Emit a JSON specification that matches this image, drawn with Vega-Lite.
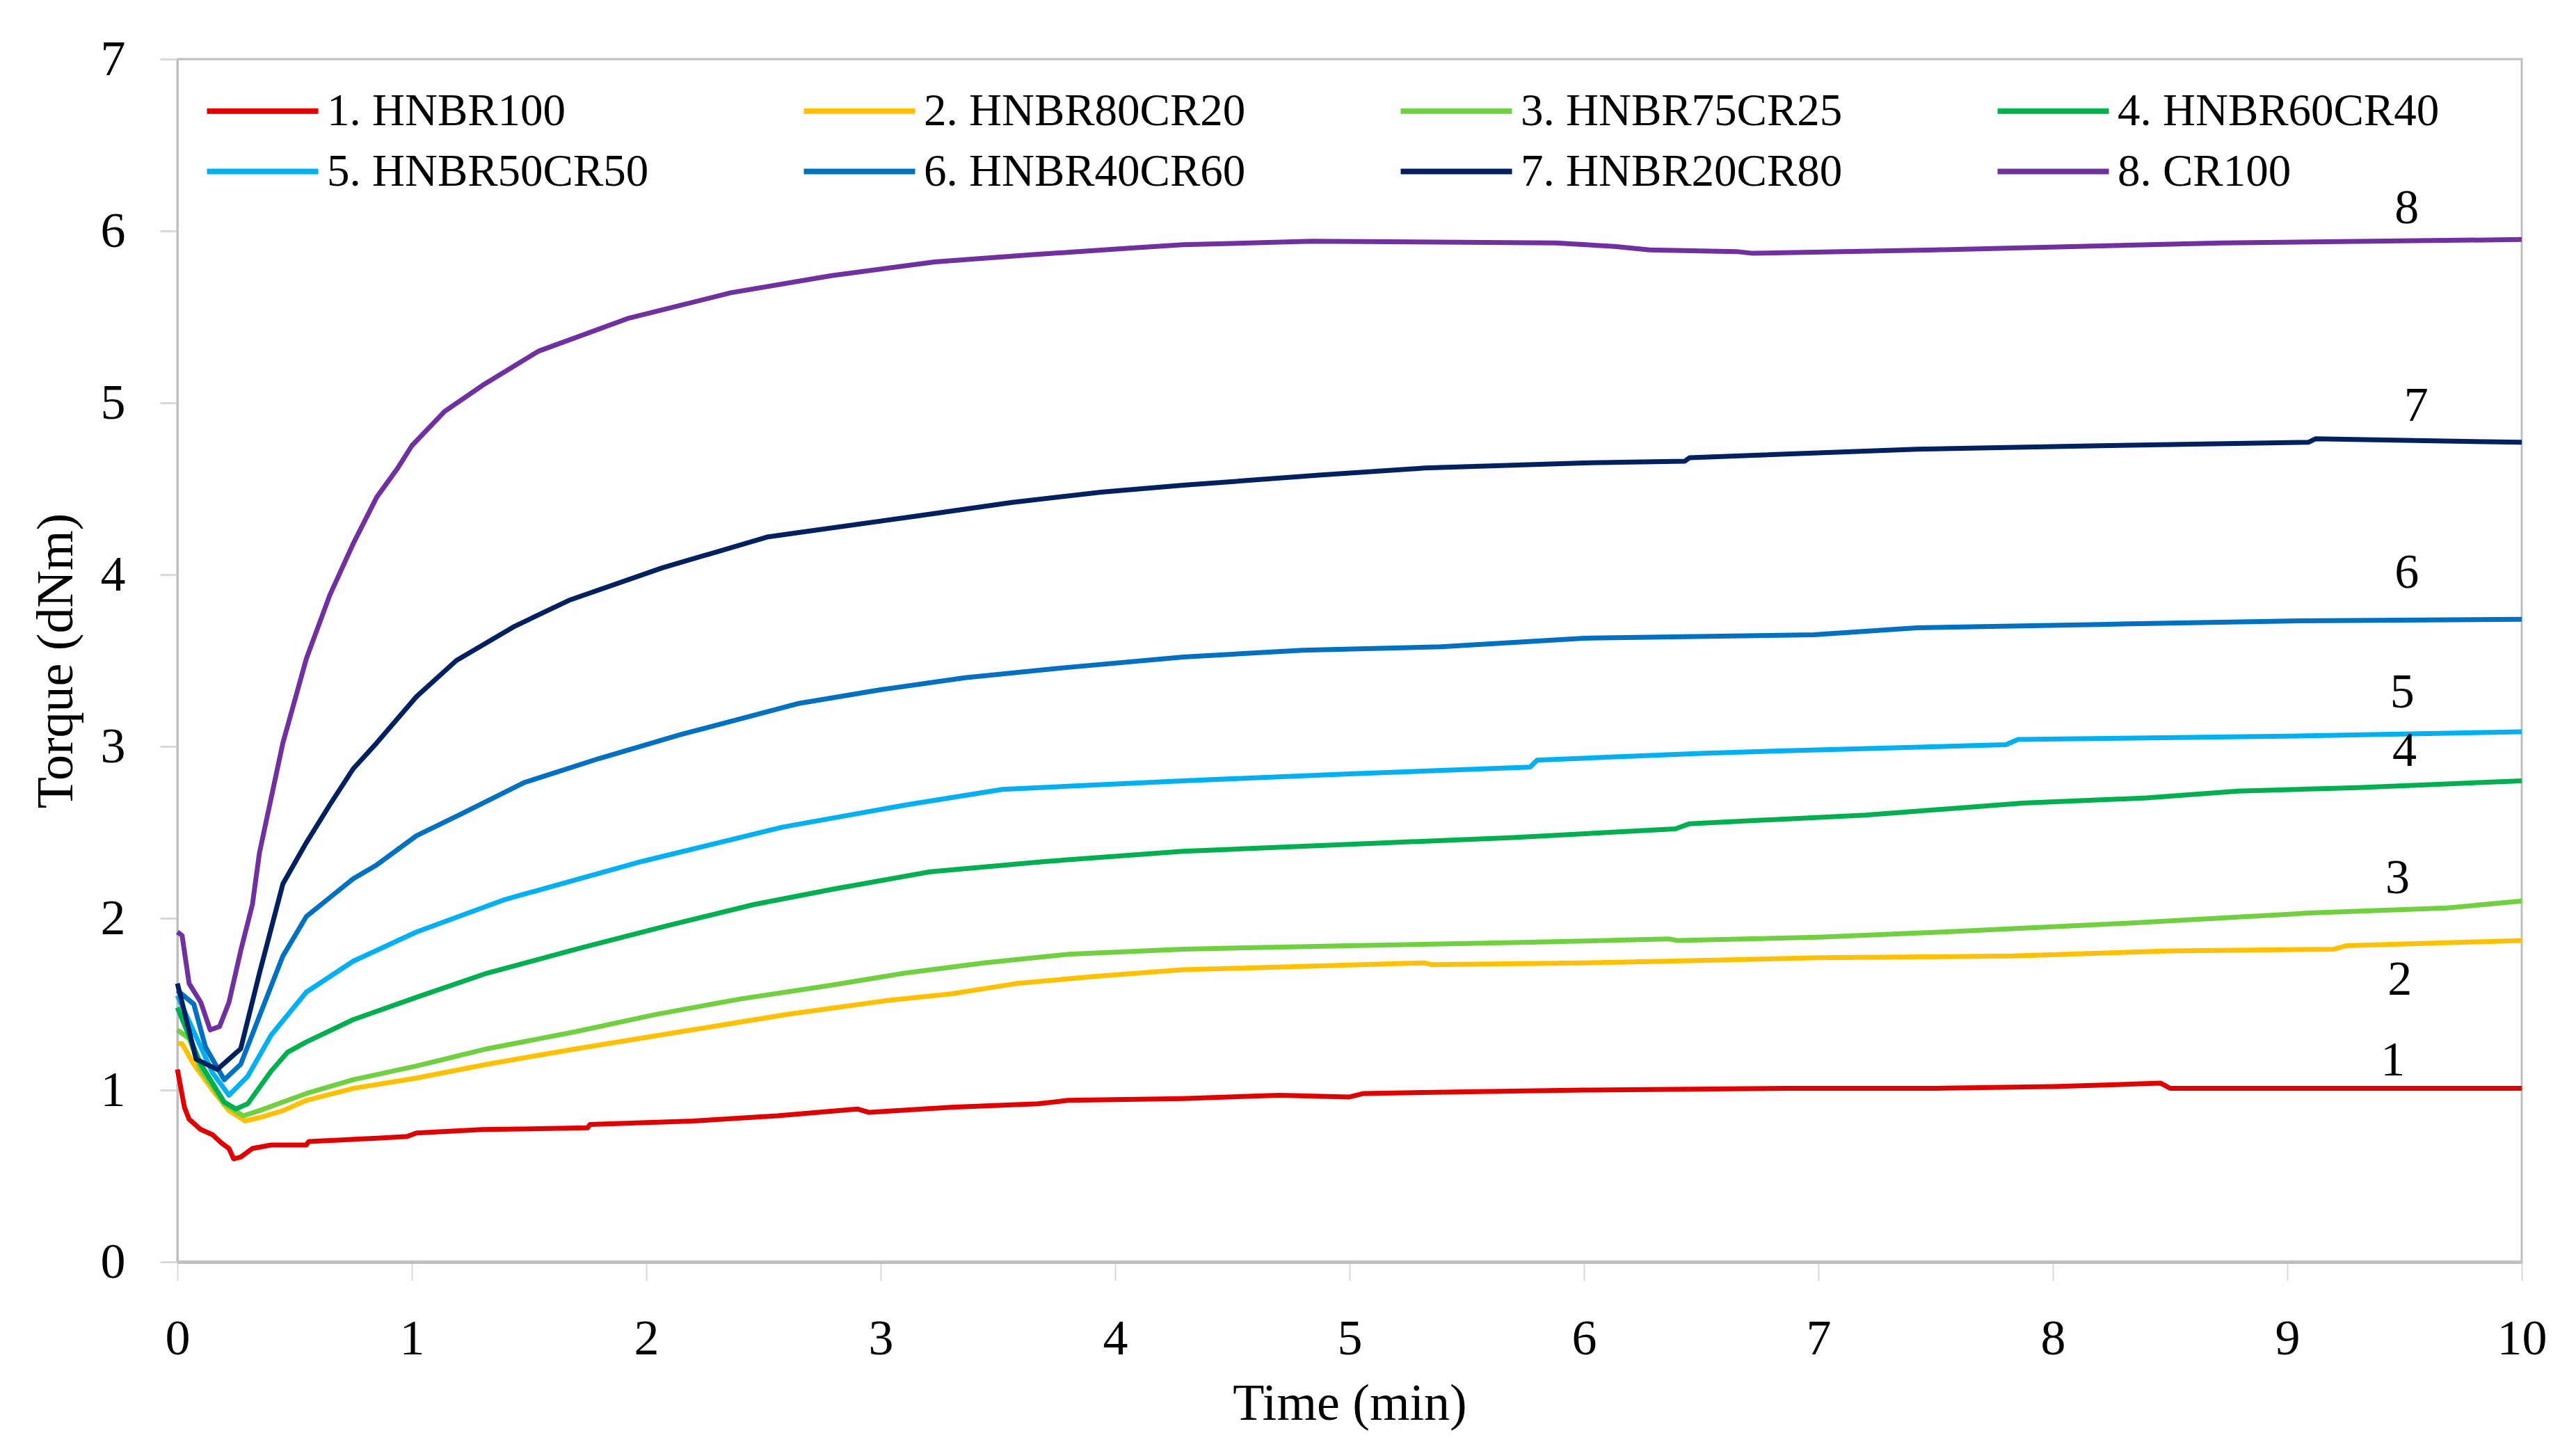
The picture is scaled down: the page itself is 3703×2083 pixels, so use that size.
{
  "$schema": "https://vega.github.io/schema/vega-lite/v6.json",
  "width": 3370,
  "height": 1729,
  "autosize": {"type": "none"},
  "padding": {"left": 255, "top": 85, "right": 78, "bottom": 269},
  "background": "white",
  "config": {
    "view": {"stroke": "#BFBFBF", "strokeWidth": 3},
    "font": "Liberation Serif"
  },
  "datasets": {
    "curves": [
      {"s": "1. HNBR100", "t": 0, "v": 1.12}, {"s": "1. HNBR100", "t": 0.03, "v": 0.9}, {"s": "1. HNBR100", "t": 0.05, "v": 0.83}, {"s": "1. HNBR100", "t": 0.1, "v": 0.77}, {"s": "1. HNBR100", "t": 0.15, "v": 0.74}, {"s": "1. HNBR100", "t": 0.19, "v": 0.69}, {"s": "1. HNBR100", "t": 0.22, "v": 0.66}, {"s": "1. HNBR100", "t": 0.24, "v": 0.6}, {"s": "1. HNBR100", "t": 0.27, "v": 0.61}, {"s": "1. HNBR100", "t": 0.32, "v": 0.66}, {"s": "1. HNBR100", "t": 0.4, "v": 0.68}, {"s": "1. HNBR100", "t": 0.55, "v": 0.68}, {"s": "1. HNBR100", "t": 0.56, "v": 0.7}, {"s": "1. HNBR100", "t": 0.7, "v": 0.71}, {"s": "1. HNBR100", "t": 0.85, "v": 0.72}, {"s": "1. HNBR100", "t": 0.98, "v": 0.73}, {"s": "1. HNBR100", "t": 1.02, "v": 0.75}, {"s": "1. HNBR100", "t": 1.3, "v": 0.77}, {"s": "1. HNBR100", "t": 1.75, "v": 0.78}, {"s": "1. HNBR100", "t": 1.76, "v": 0.8}, {"s": "1. HNBR100", "t": 2.2, "v": 0.82}, {"s": "1. HNBR100", "t": 2.56, "v": 0.85}, {"s": "1. HNBR100", "t": 2.9, "v": 0.89}, {"s": "1. HNBR100", "t": 2.95, "v": 0.87}, {"s": "1. HNBR100", "t": 3.3, "v": 0.9}, {"s": "1. HNBR100", "t": 3.67, "v": 0.92}, {"s": "1. HNBR100", "t": 3.8, "v": 0.94}, {"s": "1. HNBR100", "t": 4.29, "v": 0.95}, {"s": "1. HNBR100", "t": 4.7, "v": 0.97}, {"s": "1. HNBR100", "t": 5.0, "v": 0.96}, {"s": "1. HNBR100", "t": 5.06, "v": 0.98}, {"s": "1. HNBR100", "t": 5.5, "v": 0.99}, {"s": "1. HNBR100", "t": 6.0, "v": 1.0}, {"s": "1. HNBR100", "t": 6.87, "v": 1.01}, {"s": "1. HNBR100", "t": 7.5, "v": 1.01}, {"s": "1. HNBR100", "t": 8.0, "v": 1.02}, {"s": "1. HNBR100", "t": 8.46, "v": 1.04}, {"s": "1. HNBR100", "t": 8.5, "v": 1.01}, {"s": "1. HNBR100", "t": 9.0, "v": 1.01}, {"s": "1. HNBR100", "t": 10, "v": 1.01},
      {"s": "2. HNBR80CR20", "t": 0, "v": 1.27}, {"s": "2. HNBR80CR20", "t": 0.02, "v": 1.27}, {"s": "2. HNBR80CR20", "t": 0.07, "v": 1.15}, {"s": "2. HNBR80CR20", "t": 0.15, "v": 1.0}, {"s": "2. HNBR80CR20", "t": 0.22, "v": 0.88}, {"s": "2. HNBR80CR20", "t": 0.29, "v": 0.82}, {"s": "2. HNBR80CR20", "t": 0.35, "v": 0.84}, {"s": "2. HNBR80CR20", "t": 0.45, "v": 0.88}, {"s": "2. HNBR80CR20", "t": 0.55, "v": 0.94}, {"s": "2. HNBR80CR20", "t": 0.75, "v": 1.01}, {"s": "2. HNBR80CR20", "t": 1.02, "v": 1.07}, {"s": "2. HNBR80CR20", "t": 1.32, "v": 1.15}, {"s": "2. HNBR80CR20", "t": 1.7, "v": 1.24}, {"s": "2. HNBR80CR20", "t": 2.15, "v": 1.34}, {"s": "2. HNBR80CR20", "t": 2.6, "v": 1.44}, {"s": "2. HNBR80CR20", "t": 3.02, "v": 1.52}, {"s": "2. HNBR80CR20", "t": 3.3, "v": 1.56}, {"s": "2. HNBR80CR20", "t": 3.58, "v": 1.62}, {"s": "2. HNBR80CR20", "t": 3.9, "v": 1.66}, {"s": "2. HNBR80CR20", "t": 4.29, "v": 1.7}, {"s": "2. HNBR80CR20", "t": 4.8, "v": 1.72}, {"s": "2. HNBR80CR20", "t": 5.32, "v": 1.74}, {"s": "2. HNBR80CR20", "t": 5.35, "v": 1.73}, {"s": "2. HNBR80CR20", "t": 6.0, "v": 1.74}, {"s": "2. HNBR80CR20", "t": 6.36, "v": 1.75}, {"s": "2. HNBR80CR20", "t": 7.0, "v": 1.77}, {"s": "2. HNBR80CR20", "t": 7.83, "v": 1.78}, {"s": "2. HNBR80CR20", "t": 8.5, "v": 1.81}, {"s": "2. HNBR80CR20", "t": 9.2, "v": 1.82}, {"s": "2. HNBR80CR20", "t": 9.25, "v": 1.84}, {"s": "2. HNBR80CR20", "t": 10, "v": 1.87},
      {"s": "3. HNBR75CR25", "t": 0, "v": 1.35}, {"s": "3. HNBR75CR25", "t": 0.05, "v": 1.3}, {"s": "3. HNBR75CR25", "t": 0.1, "v": 1.12}, {"s": "3. HNBR75CR25", "t": 0.2, "v": 0.92}, {"s": "3. HNBR75CR25", "t": 0.28, "v": 0.85}, {"s": "3. HNBR75CR25", "t": 0.35, "v": 0.88}, {"s": "3. HNBR75CR25", "t": 0.45, "v": 0.93}, {"s": "3. HNBR75CR25", "t": 0.55, "v": 0.98}, {"s": "3. HNBR75CR25", "t": 0.75, "v": 1.06}, {"s": "3. HNBR75CR25", "t": 1.02, "v": 1.14}, {"s": "3. HNBR75CR25", "t": 1.32, "v": 1.24}, {"s": "3. HNBR75CR25", "t": 1.7, "v": 1.34}, {"s": "3. HNBR75CR25", "t": 2.04, "v": 1.44}, {"s": "3. HNBR75CR25", "t": 2.4, "v": 1.53}, {"s": "3. HNBR75CR25", "t": 2.79, "v": 1.61}, {"s": "3. HNBR75CR25", "t": 3.1, "v": 1.68}, {"s": "3. HNBR75CR25", "t": 3.44, "v": 1.74}, {"s": "3. HNBR75CR25", "t": 3.8, "v": 1.79}, {"s": "3. HNBR75CR25", "t": 4.29, "v": 1.82}, {"s": "3. HNBR75CR25", "t": 5.0, "v": 1.84}, {"s": "3. HNBR75CR25", "t": 5.77, "v": 1.86}, {"s": "3. HNBR75CR25", "t": 6.36, "v": 1.88}, {"s": "3. HNBR75CR25", "t": 6.4, "v": 1.87}, {"s": "3. HNBR75CR25", "t": 7.0, "v": 1.89}, {"s": "3. HNBR75CR25", "t": 7.53, "v": 1.92}, {"s": "3. HNBR75CR25", "t": 8.3, "v": 1.97}, {"s": "3. HNBR75CR25", "t": 9.09, "v": 2.03}, {"s": "3. HNBR75CR25", "t": 9.68, "v": 2.06}, {"s": "3. HNBR75CR25", "t": 10, "v": 2.1},
      {"s": "4. HNBR60CR40", "t": 0, "v": 1.48}, {"s": "4. HNBR60CR40", "t": 0.1, "v": 1.15}, {"s": "4. HNBR60CR40", "t": 0.2, "v": 0.93}, {"s": "4. HNBR60CR40", "t": 0.25, "v": 0.89}, {"s": "4. HNBR60CR40", "t": 0.3, "v": 0.92}, {"s": "4. HNBR60CR40", "t": 0.4, "v": 1.11}, {"s": "4. HNBR60CR40", "t": 0.47, "v": 1.22}, {"s": "4. HNBR60CR40", "t": 0.55, "v": 1.28}, {"s": "4. HNBR60CR40", "t": 0.75, "v": 1.41}, {"s": "4. HNBR60CR40", "t": 1.02, "v": 1.54}, {"s": "4. HNBR60CR40", "t": 1.32, "v": 1.68}, {"s": "4. HNBR60CR40", "t": 1.73, "v": 1.83}, {"s": "4. HNBR60CR40", "t": 2.1, "v": 1.96}, {"s": "4. HNBR60CR40", "t": 2.46, "v": 2.08}, {"s": "4. HNBR60CR40", "t": 2.8, "v": 2.17}, {"s": "4. HNBR60CR40", "t": 3.21, "v": 2.27}, {"s": "4. HNBR60CR40", "t": 3.7, "v": 2.33}, {"s": "4. HNBR60CR40", "t": 4.29, "v": 2.39}, {"s": "4. HNBR60CR40", "t": 5.0, "v": 2.43}, {"s": "4. HNBR60CR40", "t": 5.7, "v": 2.47}, {"s": "4. HNBR60CR40", "t": 6.39, "v": 2.52}, {"s": "4. HNBR60CR40", "t": 6.45, "v": 2.55}, {"s": "4. HNBR60CR40", "t": 7.2, "v": 2.6}, {"s": "4. HNBR60CR40", "t": 7.87, "v": 2.67}, {"s": "4. HNBR60CR40", "t": 8.4, "v": 2.7}, {"s": "4. HNBR60CR40", "t": 8.79, "v": 2.74}, {"s": "4. HNBR60CR40", "t": 9.3, "v": 2.76}, {"s": "4. HNBR60CR40", "t": 10, "v": 2.8},
      {"s": "5. HNBR50CR50", "t": 0, "v": 1.55}, {"s": "5. HNBR50CR50", "t": 0.1, "v": 1.25}, {"s": "5. HNBR50CR50", "t": 0.15, "v": 1.1}, {"s": "5. HNBR50CR50", "t": 0.22, "v": 0.97}, {"s": "5. HNBR50CR50", "t": 0.3, "v": 1.08}, {"s": "5. HNBR50CR50", "t": 0.4, "v": 1.32}, {"s": "5. HNBR50CR50", "t": 0.55, "v": 1.57}, {"s": "5. HNBR50CR50", "t": 0.75, "v": 1.75}, {"s": "5. HNBR50CR50", "t": 1.02, "v": 1.92}, {"s": "5. HNBR50CR50", "t": 1.4, "v": 2.11}, {"s": "5. HNBR50CR50", "t": 1.98, "v": 2.33}, {"s": "5. HNBR50CR50", "t": 2.58, "v": 2.53}, {"s": "5. HNBR50CR50", "t": 3.11, "v": 2.66}, {"s": "5. HNBR50CR50", "t": 3.52, "v": 2.75}, {"s": "5. HNBR50CR50", "t": 4.29, "v": 2.8}, {"s": "5. HNBR50CR50", "t": 5.0, "v": 2.84}, {"s": "5. HNBR50CR50", "t": 5.77, "v": 2.88}, {"s": "5. HNBR50CR50", "t": 5.8, "v": 2.92}, {"s": "5. HNBR50CR50", "t": 6.5, "v": 2.96}, {"s": "5. HNBR50CR50", "t": 7.0, "v": 2.98}, {"s": "5. HNBR50CR50", "t": 7.8, "v": 3.01}, {"s": "5. HNBR50CR50", "t": 7.85, "v": 3.04}, {"s": "5. HNBR50CR50", "t": 9.0, "v": 3.06}, {"s": "5. HNBR50CR50", "t": 10, "v": 3.085},
      {"s": "6. HNBR40CR60", "t": 0, "v": 1.58}, {"s": "6. HNBR40CR60", "t": 0.07, "v": 1.5}, {"s": "6. HNBR40CR60", "t": 0.12, "v": 1.25}, {"s": "6. HNBR40CR60", "t": 0.2, "v": 1.06}, {"s": "6. HNBR40CR60", "t": 0.27, "v": 1.15}, {"s": "6. HNBR40CR60", "t": 0.35, "v": 1.43}, {"s": "6. HNBR40CR60", "t": 0.45, "v": 1.78}, {"s": "6. HNBR40CR60", "t": 0.55, "v": 2.01}, {"s": "6. HNBR40CR60", "t": 0.65, "v": 2.12}, {"s": "6. HNBR40CR60", "t": 0.75, "v": 2.23}, {"s": "6. HNBR40CR60", "t": 0.85, "v": 2.31}, {"s": "6. HNBR40CR60", "t": 1.02, "v": 2.48}, {"s": "6. HNBR40CR60", "t": 1.2, "v": 2.6}, {"s": "6. HNBR40CR60", "t": 1.48, "v": 2.79}, {"s": "6. HNBR40CR60", "t": 1.8, "v": 2.93}, {"s": "6. HNBR40CR60", "t": 2.15, "v": 3.07}, {"s": "6. HNBR40CR60", "t": 2.65, "v": 3.25}, {"s": "6. HNBR40CR60", "t": 3.0, "v": 3.33}, {"s": "6. HNBR40CR60", "t": 3.36, "v": 3.4}, {"s": "6. HNBR40CR60", "t": 3.8, "v": 3.46}, {"s": "6. HNBR40CR60", "t": 4.29, "v": 3.52}, {"s": "6. HNBR40CR60", "t": 4.8, "v": 3.56}, {"s": "6. HNBR40CR60", "t": 5.39, "v": 3.58}, {"s": "6. HNBR40CR60", "t": 6.0, "v": 3.63}, {"s": "6. HNBR40CR60", "t": 6.98, "v": 3.65}, {"s": "6. HNBR40CR60", "t": 7.42, "v": 3.69}, {"s": "6. HNBR40CR60", "t": 8.2, "v": 3.71}, {"s": "6. HNBR40CR60", "t": 9.01, "v": 3.73}, {"s": "6. HNBR40CR60", "t": 10, "v": 3.74},
      {"s": "7. HNBR20CR80", "t": 0, "v": 1.62}, {"s": "7. HNBR20CR80", "t": 0.08, "v": 1.18}, {"s": "7. HNBR20CR80", "t": 0.17, "v": 1.12}, {"s": "7. HNBR20CR80", "t": 0.27, "v": 1.24}, {"s": "7. HNBR20CR80", "t": 0.35, "v": 1.68}, {"s": "7. HNBR20CR80", "t": 0.45, "v": 2.2}, {"s": "7. HNBR20CR80", "t": 0.55, "v": 2.44}, {"s": "7. HNBR20CR80", "t": 0.65, "v": 2.66}, {"s": "7. HNBR20CR80", "t": 0.75, "v": 2.87}, {"s": "7. HNBR20CR80", "t": 0.85, "v": 3.02}, {"s": "7. HNBR20CR80", "t": 1.02, "v": 3.29}, {"s": "7. HNBR20CR80", "t": 1.19, "v": 3.5}, {"s": "7. HNBR20CR80", "t": 1.44, "v": 3.7}, {"s": "7. HNBR20CR80", "t": 1.67, "v": 3.85}, {"s": "7. HNBR20CR80", "t": 2.07, "v": 4.04}, {"s": "7. HNBR20CR80", "t": 2.52, "v": 4.22}, {"s": "7. HNBR20CR80", "t": 3.15, "v": 4.34}, {"s": "7. HNBR20CR80", "t": 3.56, "v": 4.42}, {"s": "7. HNBR20CR80", "t": 3.94, "v": 4.48}, {"s": "7. HNBR20CR80", "t": 4.29, "v": 4.52}, {"s": "7. HNBR20CR80", "t": 4.88, "v": 4.58}, {"s": "7. HNBR20CR80", "t": 5.32, "v": 4.62}, {"s": "7. HNBR20CR80", "t": 6.0, "v": 4.65}, {"s": "7. HNBR20CR80", "t": 6.43, "v": 4.66}, {"s": "7. HNBR20CR80", "t": 6.45, "v": 4.68}, {"s": "7. HNBR20CR80", "t": 7.42, "v": 4.73}, {"s": "7. HNBR20CR80", "t": 8.2, "v": 4.75}, {"s": "7. HNBR20CR80", "t": 9.09, "v": 4.77}, {"s": "7. HNBR20CR80", "t": 9.12, "v": 4.79}, {"s": "7. HNBR20CR80", "t": 10, "v": 4.77},
      {"s": "8. CR100", "t": 0, "v": 1.92}, {"s": "8. CR100", "t": 0.02, "v": 1.9}, {"s": "8. CR100", "t": 0.05, "v": 1.62}, {"s": "8. CR100", "t": 0.1, "v": 1.51}, {"s": "8. CR100", "t": 0.14, "v": 1.35}, {"s": "8. CR100", "t": 0.18, "v": 1.37}, {"s": "8. CR100", "t": 0.22, "v": 1.51}, {"s": "8. CR100", "t": 0.27, "v": 1.81}, {"s": "8. CR100", "t": 0.32, "v": 2.08}, {"s": "8. CR100", "t": 0.35, "v": 2.38}, {"s": "8. CR100", "t": 0.45, "v": 3.02}, {"s": "8. CR100", "t": 0.55, "v": 3.51}, {"s": "8. CR100", "t": 0.65, "v": 3.88}, {"s": "8. CR100", "t": 0.75, "v": 4.18}, {"s": "8. CR100", "t": 0.85, "v": 4.45}, {"s": "8. CR100", "t": 0.94, "v": 4.62}, {"s": "8. CR100", "t": 1.0, "v": 4.75}, {"s": "8. CR100", "t": 1.14, "v": 4.95}, {"s": "8. CR100", "t": 1.3, "v": 5.1}, {"s": "8. CR100", "t": 1.54, "v": 5.3}, {"s": "8. CR100", "t": 1.92, "v": 5.49}, {"s": "8. CR100", "t": 2.36, "v": 5.64}, {"s": "8. CR100", "t": 2.79, "v": 5.74}, {"s": "8. CR100", "t": 3.23, "v": 5.82}, {"s": "8. CR100", "t": 3.63, "v": 5.86}, {"s": "8. CR100", "t": 4.06, "v": 5.9}, {"s": "8. CR100", "t": 4.29, "v": 5.92}, {"s": "8. CR100", "t": 4.84, "v": 5.94}, {"s": "8. CR100", "t": 5.88, "v": 5.93}, {"s": "8. CR100", "t": 6.13, "v": 5.91}, {"s": "8. CR100", "t": 6.28, "v": 5.89}, {"s": "8. CR100", "t": 6.65, "v": 5.88}, {"s": "8. CR100", "t": 6.72, "v": 5.87}, {"s": "8. CR100", "t": 7.5, "v": 5.89}, {"s": "8. CR100", "t": 8.72, "v": 5.93}, {"s": "8. CR100", "t": 10, "v": 5.95}
    ],
    "tags": [
      {"n": "8", "t": 9.51, "v": 6.13},
      {"n": "7", "t": 9.55, "v": 4.98},
      {"n": "6", "t": 9.51, "v": 4.01},
      {"n": "5", "t": 9.49, "v": 3.31},
      {"n": "4", "t": 9.5, "v": 2.97},
      {"n": "3", "t": 9.47, "v": 2.23},
      {"n": "2", "t": 9.48, "v": 1.64},
      {"n": "1", "t": 9.45, "v": 1.17}
    ]
  },
  "layer": [
    {
      "data": {"name": "curves"},
      "mark": {"type": "line", "strokeWidth": 7, "strokeJoin": "round"},
      "encoding": {
        "x": {
          "field": "t", "type": "quantitative",
          "scale": {"domain": [0, 10], "nice": false},
          "axis": {
            "title": "Time (min)", "values": [0, 1, 2, 3, 4, 5, 6, 7, 8, 9, 10], "format": "d", "grid": false,
            "domainColor": "#BFBFBF", "domainWidth": 5,
            "tickColor": "#D9D9D9", "tickWidth": 2, "tickSize": 27,
            "labelFont": "Liberation Serif", "labelFontSize": 72, "labelColor": "black", "labelPadding": 48, "labelFlush": false,
            "titleFont": "Liberation Serif", "titleFontSize": 74, "titleFontWeight": "normal", "titleColor": "black", "titlePadding": 22
          }
        },
        "y": {
          "field": "v", "type": "quantitative",
          "scale": {"domain": [0, 7], "nice": false},
          "axis": {
            "title": "Torque (dNm)", "values": [0, 1, 2, 3, 4, 5, 6, 7], "format": "d", "grid": false,
            "domainColor": "#BFBFBF", "domainWidth": 3,
            "tickColor": "#D9D9D9", "tickWidth": 3, "tickSize": 25,
            "labelFont": "Liberation Serif", "labelFontSize": 72, "labelColor": "black", "labelPadding": 50, "labelFlush": false,
            "titleFont": "Liberation Serif", "titleFontSize": 74, "titleFontWeight": "normal", "titleColor": "black", "titlePadding": 25
          }
        },
        "color": {
          "field": "s", "type": "nominal",
          "scale": {
            "domain": ["1. HNBR100", "2. HNBR80CR20", "3. HNBR75CR25", "4. HNBR60CR40", "5. HNBR50CR50", "6. HNBR40CR60", "7. HNBR20CR80", "8. CR100"],
            "range": ["#E00000", "#FFC000", "#70D040", "#00B050", "#00B0F0", "#0070C0", "#002060", "#7030A0"]
          },
          "legend": {
            "orient": "none", "legendX": 90, "legendY": 42, "columns": 4, "direction": "horizontal", "title": null,
            "symbolType": "M-4,0H4", "symbolSize": 1600, "symbolStrokeWidth": 8,
            "labelFont": "Liberation Serif", "labelFontSize": 65, "labelColor": "black", "labelOffset": 60, "labelLimit": 0,
            "gridAlign": "all", "columnPadding": 206, "rowPadding": 21, "padding": 0
          }
        }
      }
    },
    {
      "data": {"name": "tags"},
      "mark": {"type": "text", "font": "Liberation Serif", "fontSize": 70, "color": "black"},
      "encoding": {
        "x": {"field": "t", "type": "quantitative"},
        "y": {"field": "v", "type": "quantitative"},
        "text": {"field": "n"}
      }
    }
  ]
}
